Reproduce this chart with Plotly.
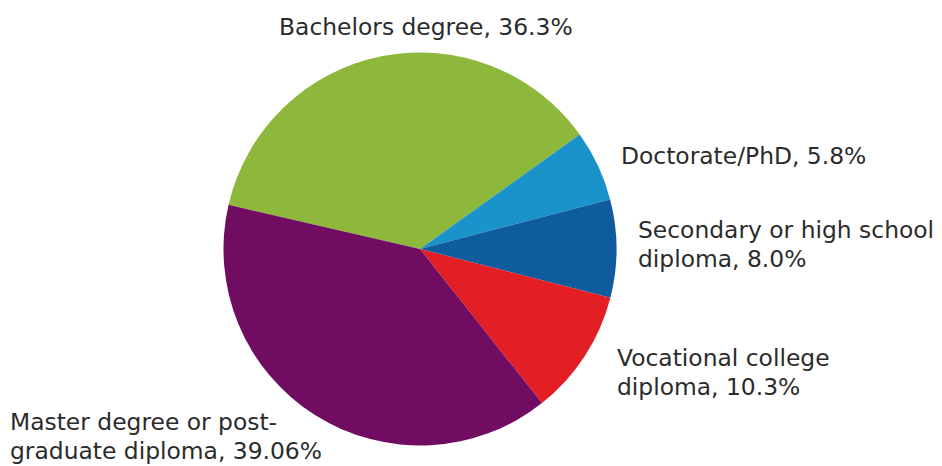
import plotly.graph_objects as go

W, H = 942, 466

# Education level shares (%)
categories = ["Bachelors degree", "Doctorate/PhD", "Secondary or high school diploma",
              "Vocational college diploma", "Master degree or post-graduate diploma"]
values = [36.3, 5.8, 8.0, 10.3, 39.06]
value_labels = ["36.3%", "5.8%", "8.0%", "10.3%", "39.06%"]
colors = ["#8DB83C", "#1A92CA", "#0E5C9E", "#E31E24", "#710C63"]

# Label lines drawn beside each slice
label_lines = [
    ["Bachelors degree, " + value_labels[0]],
    ["Doctorate/PhD, " + value_labels[1]],
    ["Secondary or high school", "diploma, " + value_labels[2]],
    ["Vocational college", "diploma, " + value_labels[3]],
    ["Master degree or post-", "graduate diploma, " + value_labels[4]],
]
# (x px, first-line center y px, anchor)
label_pos = [
    (426, 27, "center"),
    (619, 156, "left"),
    (636, 230, "left"),
    (615, 358, "left"),
    (8, 422, "left"),
]
LINE = 28.5

cx, cy, r = 420, 249, 196.5

fig = go.Figure(go.Pie(
    labels=categories,
    values=values,
    sort=False,
    direction="clockwise",
    rotation=-77,
    marker=dict(colors=colors, line=dict(width=0)),
    textinfo="none",
    hoverinfo="label+percent",
    domain=dict(x=[(cx - r) / W, (cx + r) / W], y=[1 - (cy + r) / H, 1 - (cy - r) / H]),
    showlegend=False,
))

for lines, (x, y, anchor) in zip(label_lines, label_pos):
    for i, line in enumerate(lines):
        fig.add_annotation(
            x=x / W, y=1 - (y + i * LINE) / H, xref="paper", yref="paper",
            text=line, showarrow=False, xanchor=anchor, yanchor="middle",
            font=dict(family="DejaVu Sans", size=23.4, color="#2b2b2b"),
        )

fig.update_layout(
    width=W, height=H,
    margin=dict(l=0, r=0, t=0, b=0),
    paper_bgcolor="white",
    plot_bgcolor="white",
)

fig.write_html("out.html")
